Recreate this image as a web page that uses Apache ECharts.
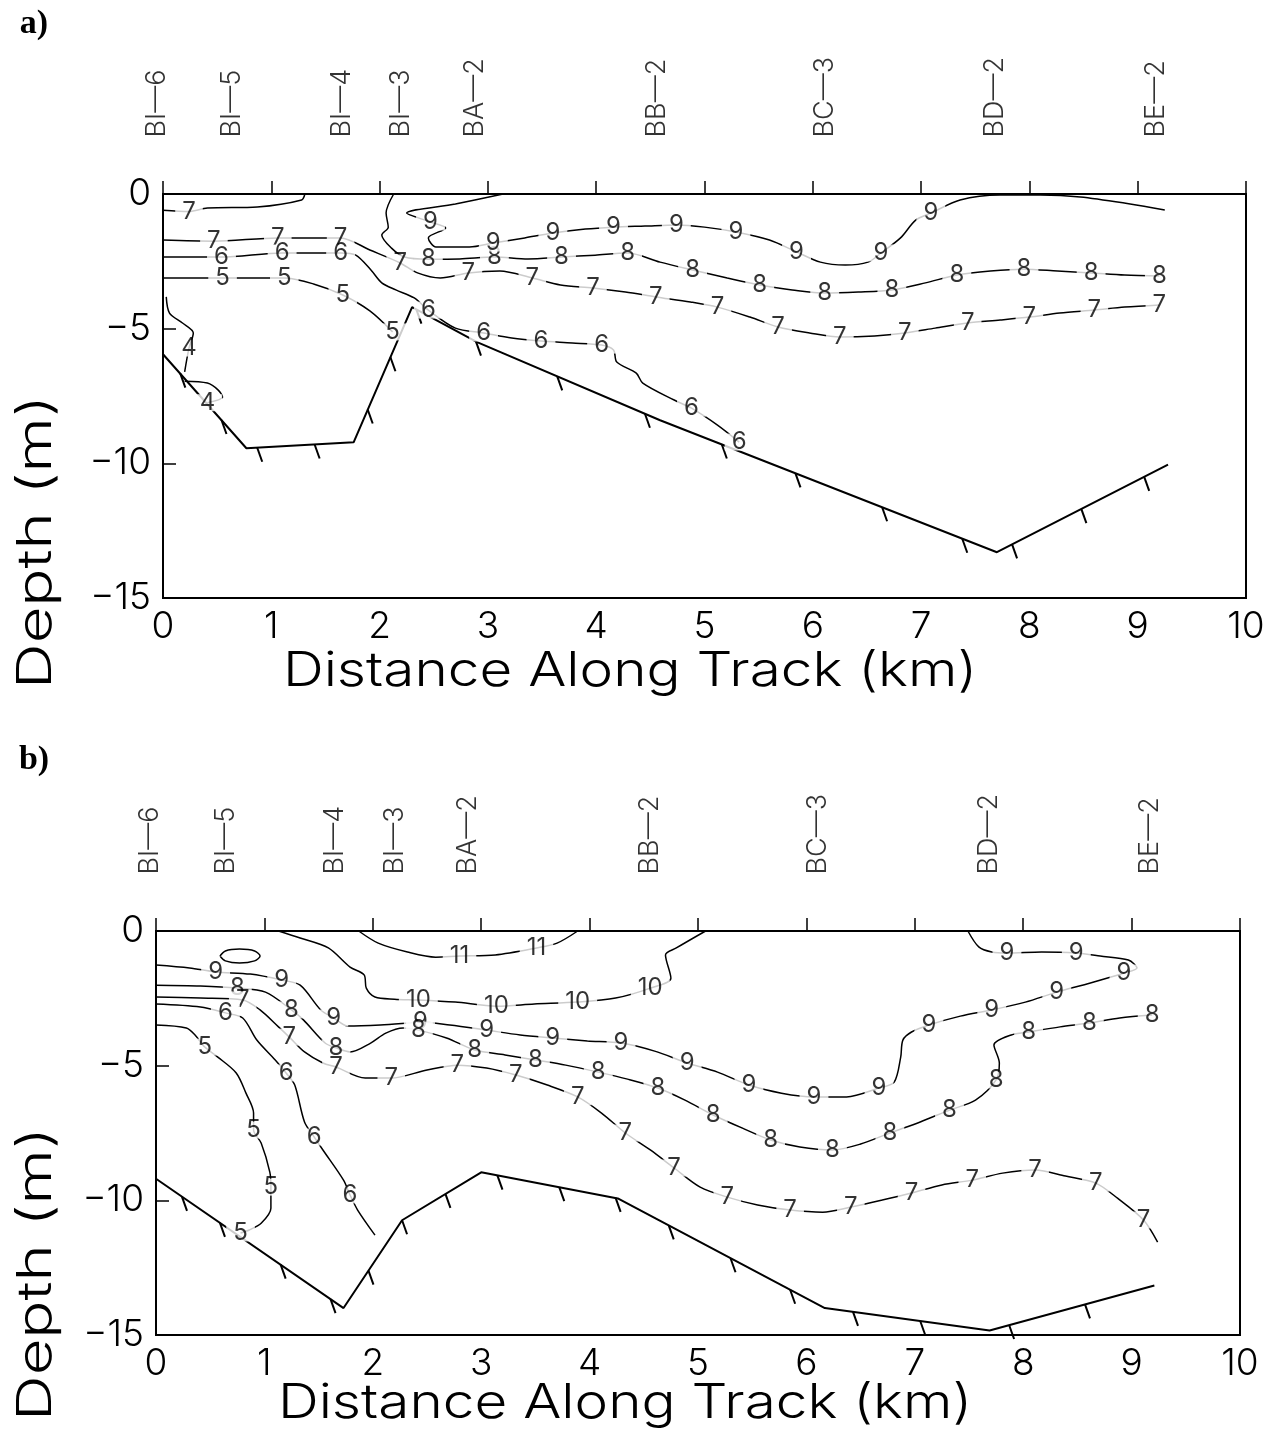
<!DOCTYPE html>
<html>
<head>
<meta charset="utf-8">
<script src="https://cdn.jsdelivr.net/npm/echarts@6/dist/echarts.min.js"></script>
<style>
  * { margin: 0; padding: 0; }
  html, body { width: 1279px; height: 1438px; background: #fff; }
  #chart { width: 1279px; height: 1438px; }
</style>
</head>
<body>
<div id="chart"></div>
<script>
// stations along the track (km), same for both sections
var stationNames = ['BI—6', 'BI—5', 'BI—4', 'BI—3', 'BA—2', 'BB—2', 'BC—3', 'BD—2', 'BE—2'];
var stationKm = [-0.06, 0.64, 1.65, 2.2, 2.88, 4.56, 6.11, 7.68, 9.17];

// bottom profile [km, depth m]
var bottomA = [[0, -5.95], [0.77, -9.44], [1.76, -9.22], [2.3, -4.2], [2.9, -5.5], [4.59, -8.4], [7.7, -13.3], [9.28, -10.05]];
var bottomB = [[0, -9.2], [1.73, -14.0], [2.27, -10.74], [3.0, -8.96], [4.26, -9.93], [6.17, -14.0], [7.69, -14.83], [9.21, -13.16]];

// hatch marks under the bottom
var hatchA = [[0.16, -6.67], [0.54, -8.39], [0.87, -9.42], [1.4, -9.3], [1.89, -8.0], [2.1, -6.06], [2.34, -4.29], [2.89, -5.48],
  [3.64, -6.77], [4.45, -8.16], [5.16, -9.3], [5.84, -10.37], [6.64, -11.63], [7.38, -12.8], [7.84, -13.01], [8.48, -11.7], [9.06, -10.5]];
var hatchB = [[0.24, -9.87], [0.59, -10.84], [1.15, -12.39], [1.61, -13.67], [1.96, -12.61], [2.27, -10.74], [2.67, -9.76], [3.15, -9.08],
  [3.72, -9.51], [4.24, -9.91], [4.73, -10.93], [5.3, -12.15], [5.85, -13.32], [6.43, -14.14], [7.05, -14.48], [7.87, -14.63], [8.57, -13.86]];

// contours, panel a) -- third value 1 = label sits here
var a7top = [[0, -0.6], [0.24, -0.65, 1], [0.41, -0.52], [0.87, -0.48], [1.28, -0.22], [1.31, 0]];
var a7 = [[0, -1.71], [0.47, -1.75, 1], [1.06, -1.63, 1], [1.64, -1.63, 1], [1.91, -2.08], [2.19, -2.56, 1], [2.35, -2.93], [2.56, -3.12],
  [2.82, -2.93, 1], [3.11, -2.86], [3.41, -3.12, 1], [3.67, -3.38], [3.97, -3.49, 1], [4.27, -3.64], [4.55, -3.82, 1], [4.87, -4.01],
  [5.12, -4.2, 1], [5.42, -4.57], [5.68, -4.94, 1], [5.97, -5.16], [6.25, -5.31, 1], [6.57, -5.27], [6.85, -5.16, 1], [7.13, -4.98],
  [7.43, -4.79, 1], [7.73, -4.68], [8.0, -4.57, 1], [8.28, -4.42], [8.6, -4.31, 1], [8.88, -4.2], [9.2, -4.12, 1]];
var a8 = [[2.13, 0], [2.06, -0.71], [2.08, -1.23], [2.02, -1.52], [2.11, -2.01], [2.23, -2.34], [2.45, -2.42, 1], [2.74, -2.41],
  [3.06, -2.34, 1], [3.37, -2.41], [3.68, -2.34, 1], [3.99, -2.27], [4.29, -2.19, 1], [4.59, -2.53], [4.89, -2.82, 1], [5.21, -3.12],
  [5.51, -3.38, 1], [5.81, -3.56], [6.11, -3.68, 1], [6.42, -3.64], [6.73, -3.56, 1], [7.04, -3.3], [7.33, -3.01, 1], [7.64, -2.86],
  [7.95, -2.79, 1], [8.26, -2.86], [8.57, -2.93, 1], [8.88, -3.01], [9.2, -3.04, 1]];
var a9 = [[3.14, 0], [2.7, -0.37], [2.25, -0.71], [2.47, -1.04, 1], [2.61, -1.26], [2.45, -1.63], [2.52, -1.97], [2.83, -1.97],
  [3.05, -1.82, 1], [3.34, -1.63], [3.6, -1.45, 1], [3.9, -1.3], [4.16, -1.23, 1], [4.45, -1.19], [4.74, -1.15, 1], [5.0, -1.23],
  [5.29, -1.41, 1], [5.6, -1.71], [5.85, -2.15, 1], [6.07, -2.53], [6.3, -2.64], [6.51, -2.53], [6.63, -2.19, 1], [6.81, -1.63],
  [6.95, -0.97], [7.09, -0.71, 1], [7.36, -0.22], [7.73, -0.04], [8.1, -0.04], [8.47, -0.11], [8.93, -0.37], [9.25, -0.59]];
var a6 = [[0, -2.34], [0.54, -2.34, 1], [1.1, -2.19, 1], [1.64, -2.19, 1], [1.78, -2.27], [1.92, -2.82], [2.02, -3.3], [2.15, -3.56],
  [2.32, -3.86], [2.45, -4.31, 1], [2.7, -4.98], [2.96, -5.16, 1], [3.22, -5.35], [3.49, -5.46, 1], [3.78, -5.53], [4.05, -5.61, 1],
  [4.16, -5.79], [4.19, -6.24], [4.37, -6.65], [4.43, -7.02], [4.72, -7.65], [4.88, -7.95, 1], [5.12, -8.58], [5.32, -9.21, 1]];
var a5 = [[0, -3.12], [0.55, -3.12, 1], [1.12, -3.12, 1], [1.39, -3.34], [1.66, -3.75, 1], [1.91, -4.34], [2.12, -5.12, 1]];
var a4 = [[0.03, -3.82], [0.06, -4.42], [0.18, -4.79], [0.28, -5.16], [0.24, -5.72, 1], [0.2, -6.6]];
var a4low = [[0.2, -6.95], [0.41, -7.02], [0.51, -7.28], [0.55, -7.54], [0.41, -7.75, 1]];

// contours, panel b)
var b11 = [[1.87, 0], [2.05, -0.45], [2.32, -0.78], [2.58, -0.97], [2.8, -0.93, 1], [3.13, -0.89], [3.51, -0.63, 1], [3.7, -0.45], [3.89, 0]];
var b10 = [[1.13, 0], [1.33, -0.26], [1.59, -0.63], [1.79, -1.34], [1.92, -1.63], [1.94, -2.12], [2.02, -2.45], [2.2, -2.53],
  [2.42, -2.56, 1], [2.76, -2.64], [3.14, -2.79, 1], [3.49, -2.71], [3.89, -2.64, 1], [4.24, -2.49], [4.56, -2.12, 1], [4.75, -1.75],
  [4.7, -0.89], [4.8, -0.63], [5.07, 0]];
var b9 = [[0, -1.26], [0.31, -1.37], [0.55, -1.52, 1], [0.87, -1.6], [1.16, -1.82, 1], [1.33, -2.01], [1.52, -2.93], [1.64, -3.23, 1],
  [1.77, -3.53], [2.07, -3.49], [2.32, -3.42], [2.44, -3.38, 1], [2.71, -3.49], [3.05, -3.68, 1], [3.36, -3.86], [3.66, -3.97, 1],
  [3.98, -4.08], [4.29, -4.16, 1], [4.6, -4.46], [4.9, -4.9, 1], [5.18, -5.24], [5.47, -5.72, 1], [5.77, -6.02], [6.07, -6.16, 1],
  [6.37, -6.16], [6.67, -5.83, 1], [6.81, -5.61], [6.87, -4.68], [6.89, -4.05], [6.97, -3.75], [7.13, -3.49, 1], [7.42, -3.16],
  [7.71, -2.93, 1], [8.02, -2.64], [8.31, -2.27, 1], [8.62, -1.93], [8.93, -1.56, 1], [9.05, -1.37], [8.97, -1.08], [8.71, -0.93],
  [8.49, -0.82, 1], [8.17, -0.78], [7.85, -0.82, 1], [7.71, -0.78], [7.59, -0.59], [7.49, 0]];
var b9ring = [[0.59, -0.93], [0.64, -0.74], [0.77, -0.67], [0.91, -0.74], [0.96, -0.93], [0.91, -1.11], [0.77, -1.19], [0.64, -1.11], [0.59, -0.93]];
var b8 = [[0, -2.01], [0.41, -2.04], [0.75, -2.12, 1], [1.01, -2.27], [1.25, -2.93, 1], [1.36, -3.3], [1.56, -4.16], [1.66, -4.34, 1],
  [1.79, -4.49], [1.98, -4.16], [2.12, -3.79], [2.28, -3.6], [2.42, -3.68, 1], [2.68, -3.97], [2.94, -4.42, 1], [3.22, -4.6],
  [3.5, -4.79, 1], [3.78, -4.98], [4.08, -5.24, 1], [4.35, -5.5], [4.63, -5.83, 1], [4.88, -6.28], [5.14, -6.83, 1], [5.41, -7.32],
  [5.67, -7.76, 1], [5.94, -8.02], [6.24, -8.13, 1], [6.5, -7.91], [6.77, -7.5, 1], [7.05, -7.09], [7.32, -6.65, 1], [7.56, -6.28],
  [7.75, -5.53, 1], [7.78, -4.9], [7.73, -4.23], [7.89, -3.86], [8.05, -3.75, 1], [8.34, -3.56], [8.61, -3.42, 1], [8.89, -3.23], [9.19, -3.12, 1]];
var b7 = [[0, -2.45], [0.41, -2.49], [0.8, -2.56, 1], [0.96, -2.93], [1.13, -3.56], [1.23, -3.94, 1], [1.37, -4.49], [1.54, -4.9],
  [1.66, -5.05, 1], [1.93, -5.46], [2.17, -5.46, 1], [2.5, -5.16], [2.78, -4.98, 1], [3.05, -5.09], [3.32, -5.35, 1], [3.61, -5.72],
  [3.89, -6.16, 1], [4.11, -6.76], [4.33, -7.5, 1], [4.56, -8.13], [4.78, -8.8, 1], [5.02, -9.51], [5.27, -9.88, 1], [5.55, -10.17],
  [5.85, -10.36, 1], [6.15, -10.44], [6.41, -10.25, 1], [6.7, -9.99], [6.97, -9.73, 1], [7.25, -9.43], [7.53, -9.25, 1], [7.81, -8.99],
  [8.11, -8.87, 1], [8.39, -9.1], [8.67, -9.36, 1], [8.87, -9.92], [9.11, -10.73, 1], [9.24, -11.55]];
var b6 = [[0, -2.71], [0.41, -2.82], [0.64, -3.04, 1], [0.8, -3.23], [0.93, -4.05], [1.1, -4.79], [1.2, -5.27, 1], [1.28, -5.72],
  [1.37, -7.09], [1.46, -7.65, 1], [1.54, -8.13], [1.73, -9.25], [1.79, -9.8, 1], [1.86, -10.36], [2.02, -11.29]];
var b5 = [[0, -3.49], [0.28, -3.6], [0.36, -3.86], [0.45, -4.31, 1], [0.57, -4.68], [0.74, -5.27], [0.83, -6.02], [0.9, -6.76],
  [0.9, -7.39, 1], [0.97, -7.87], [1.05, -8.95], [1.06, -9.51, 1], [1.06, -10.29], [0.97, -10.85], [0.86, -11.1], [0.78, -11.21, 1]];

var contoursA = [[7, a7top], [7, a7], [8, a8], [9, a9], [6, a6], [5, a5], [4, a4], [4, a4low]];
var contoursB = [[11, b11], [10, b10], [9, b9], [9, b9ring], [8, b8], [7, b7], [6, b6], [5, b5]];

var FONT = 'Inter, "DejaVu Sans", sans-serif';

// short slanted stroke hanging under the bottom line
function hatchItem(params, api) {
  var p = api.coord([api.value(0), api.value(1)]);
  return {
    type: 'line',
    shape: { x1: p[0], y1: p[1], x2: p[0] + 5, y2: p[1] + 14 },
    style: { stroke: '#000', lineWidth: 2 }
  };
}

function panelSeries(idx, bottom, hatch, contours) {
  var out = [];
  contours.forEach(function (c) {
    out.push({
      type: 'line', xAxisIndex: idx, yAxisIndex: idx,
      data: c[1].map(function (p) { return [p[0], p[1]]; }),
      showSymbol: false, smooth: 0.3, silent: true, z: 2,
      lineStyle: { color: '#000', width: 1.5 }
    });
  });
  var labels = [];
  contours.forEach(function (c) {
    c[1].forEach(function (p) {
      if (p[2]) labels.push({ value: [p[0], p[1]], name: String(c[0]) });
    });
  });
  // contour values, white box breaks the line like the original
  out.push({
    type: 'scatter', xAxisIndex: idx, yAxisIndex: idx, data: labels, symbolSize: 1, z: 5, silent: true,
    itemStyle: { color: 'rgba(0,0,0,0)' },
    label: {
      show: true, position: 'inside', formatter: '{b}', color: '#000', fontFamily: FONT, fontWeight: 400,
      fontSize: 24, lineHeight: 17, backgroundColor: '#fff', padding: [0, 7],
      textBorderWidth: 0, textBorderColor: 'transparent'
    }
  });
  out.push({
    type: 'line', xAxisIndex: idx, yAxisIndex: idx, data: bottom, showSymbol: false, silent: true, z: 3,
    lineStyle: { color: '#000', width: 2 }
  });
  out.push({
    type: 'custom', xAxisIndex: idx, yAxisIndex: idx, data: hatch, renderItem: hatchItem, silent: true, z: 3
  });
  out.push({
    type: 'scatter', xAxisIndex: idx, yAxisIndex: idx, clip: false, symbolSize: 1, silent: true,
    itemStyle: { color: 'rgba(0,0,0,0)' },
    data: stationKm.map(function (k, i) { return { value: [k, 2.1], name: stationNames[i] }; }),
    label: {
      show: true, position: 'inside', rotate: 90, align: 'left', verticalAlign: 'middle',
      formatter: '{b}', color: '#000', fontFamily: FONT, fontWeight: 300, fontSize: 27,
      textBorderWidth: 0, textBorderColor: 'transparent'
    }
  });
  return out;
}

function xAx(idx) {
  return {
    type: 'value', gridIndex: idx, min: 0, max: 10, interval: 1,
    axisLine: { lineStyle: { color: '#000', width: 2 } },
    axisTick: { inside: true, length: 13, lineStyle: { color: '#000', width: 1.5 } },
    axisLabel: { color: '#000', fontFamily: FONT, fontWeight: 300, fontSize: 37, margin: 10 },
    splitLine: { show: false }
  };
}
function yAx(idx) {
  return {
    type: 'value', gridIndex: idx, min: -15, max: 0, interval: 5,
    axisLine: { lineStyle: { color: '#000', width: 2 } },
    axisTick: { inside: true, length: 13, lineStyle: { color: '#000', width: 1.5 } },
    axisLabel: {
      color: '#000', fontFamily: FONT, fontWeight: 300, fontSize: 37, margin: 12,
      formatter: function (v) { return v < 0 ? '\u2212' + Math.abs(v) : String(v); }
    },
    splitLine: { show: false }
  };
}

function txt(x, y, text, size, rot, sx, fam, weight) {
  return {
    type: 'text', x: x, y: y, rotation: rot || 0, scaleX: sx || 1, silent: true,
    style: {
      text: text, fill: '#000', fontFamily: fam || FONT, fontWeight: weight || 300, fontSize: size,
      align: 'center', verticalAlign: 'middle', textAlign: 'center', textVerticalAlign: 'middle'
    }
  };
}

var chart = echarts.init(document.getElementById('chart'));
chart.setOption({
  backgroundColor: '#fff',
  animation: false,
  grid: [
    { left: 163, top: 194, width: 1083, height: 404, show: true, borderColor: '#000', borderWidth: 2, backgroundColor: 'transparent' },
    { left: 156, top: 931, width: 1084, height: 404, show: true, borderColor: '#000', borderWidth: 2, backgroundColor: 'transparent' }
  ],
  xAxis: [xAx(0), xAx(1)],
  yAxis: [yAx(0), yAx(1)],
  graphic: [
    txt(34, 24, 'a)', 34, 0, 1, '"Liberation Serif", serif', 'bold'),
    txt(34, 760, 'b)', 34, 0, 1, '"Liberation Serif", serif', 'bold'),
    txt(37, 542, 'Depth (m)', 48, Math.PI / 2, 1.32),
    txt(37, 1274, 'Depth (m)', 48, Math.PI / 2, 1.32),
    txt(630, 672, 'Distance Along Track (km)', 48, 0, 1.18),
    txt(625, 1404, 'Distance Along Track (km)', 48, 0, 1.18)
  ],
  series: panelSeries(0, bottomA, hatchA, contoursA).concat(panelSeries(1, bottomB, hatchB, contoursB))
});
</script>
</body>
</html>
